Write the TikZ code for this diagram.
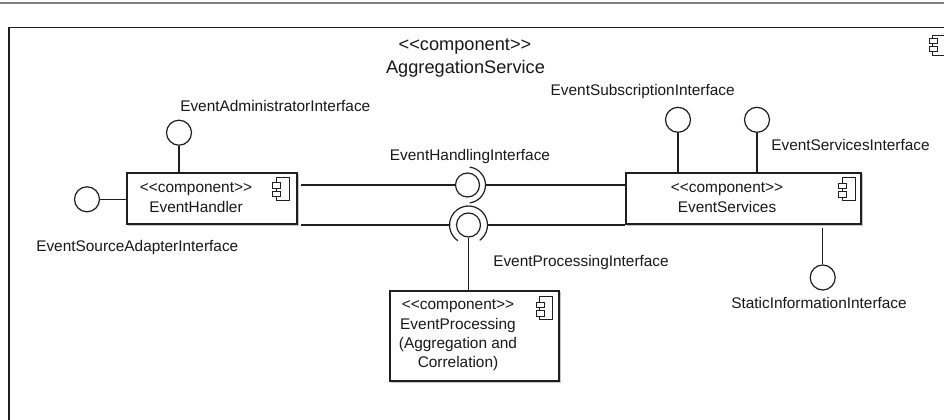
\documentclass[tikz,border=0pt]{standalone}
\usepackage{fontspec}
\setmainfont{Liberation Sans}
\usetikzlibrary{calc}
\newcommand\compstereo{<{}<component>{}>}
\tikzset{
  ln/.style={line width=0.9pt, draw=black!88},
  comp/.style={rectangle, draw=black!88, line width=0.9pt, fill=white, inner sep=0pt},
  ball/.style={circle, draw=black!88, line width=0.9pt, fill=white, inner sep=0pt, minimum size=18.75pt},
  lbl/.style={font=\fontsize{11.55}{14}\selectfont, inner sep=0pt, text=black!90},
  boxtxt/.style={lbl, align=center, font=\fontsize{11.55}{14.6}\selectfont},
  ttl/.style={font=\fontsize{13.65}{16}\selectfont, inner sep=0pt, text=black!90},
  shade/.style={draw=gray!45, line width=0.75pt},
  compicon/.pic={
    \draw[line width=0.7pt, draw=black!88, fill=white] (0,0) rectangle (13,-23);
    \draw[line width=0.7pt, draw=black!88, fill=white] (-3.5,-5.5) rectangle (4.5,-11);
    \draw[line width=0.7pt, draw=black!88, fill=white] (-3.5,-14) rectangle (4.5,-19.5);
  }
}
\begin{document}
\begin{tikzpicture}[x=0.75pt, y=0.75pt]
\useasboundingbox (0,0) rectangle (944,-420);
\fill[white] (0,0) rectangle (944,-420);
\clip (0,0) rectangle (944,-420);

% top gray rule
\draw[line width=1.5pt, draw=gray] (0,-3) -- (944,-3);

% outer component frame (cropped at right and bottom)
\draw[ln] (9,-440) -- (9,-27.5) -- (960,-27.5);
\draw[line width=0.7pt, draw=black!88, fill=white] (932.5,-35) rectangle (952,-55);
\draw[line width=0.7pt, draw=black!88, fill=white] (929,-38) rectangle (937,-43.5);
\draw[line width=0.7pt, draw=black!88, fill=white] (929,-46) rectangle (937,-51.5);
\node[ttl] (t1) at (465,-46.7) {\compstereo};
\node[ttl] (t2) at (465.5,-68.3) {AggregationService};

% component boxes
\node[comp, minimum width=127.5pt, minimum height=38.25pt] (eh) at (212,-198.5) {};
\node[comp, minimum width=176.25pt, minimum height=38.25pt] (es) at (743.5,-198.5) {};
\node[comp, minimum width=126.75pt, minimum height=67.5pt] (ep) at (474.5,-336) {};
\foreach \b in {eh,es,ep}{
  \draw[shade] ($(\b.south west)+(1.5,-1.3)$) -- ($(\b.south east)+(1.3,-1.3)$) -- ($(\b.north east)+(1.3,-1.5)$);
}
\pic at (276,-177.3) {compicon};
\pic at (842,-177.5) {compicon};
\pic at (539.5,-296.5) {compicon};

\node[boxtxt] (eht) at (196,-197.8) {\compstereo\\EventHandler};
\node[boxtxt] (est) at (727,-197.8) {\compstereo\\EventServices};
\node[boxtxt] (ept) at (458,-335.4) {\compstereo\\EventProcessing\\(Aggregation and\\Correlation)};

% lollipop interfaces
\node[ball] (eai) at (179,-132.7) {};
\node[ball] (esi) at (87,-199.3) {};
\node[ball] (esub) at (678,-119.8) {};
\node[ball] (esvi) at (757,-119.8) {};
\node[ball] (sii) at (822.7,-277.5) {};
\node[ball, minimum size=18pt] (ehi) at (467.5,-185) {};
\node[ball, minimum size=18pt] (epi) at (468.5,-225) {};

\draw[ln] (eai.south) -- (eai.south |- eh.north);
\draw[ln] (esi.east) -- (esi.east -| eh.west);
\draw[ln] (esub.south) -- (esub.south |- es.north);
\draw[ln] (esvi.south) -- (esvi.south |- es.north);
\draw[ln] (sii.north) -- ($(sii.north |- es.south)+(0,-3)$);

% EventHandlingInterface (ball and socket)
\draw[ln] ($(eh.east |- ehi)+(3.5,0)$) -- (ehi.west);
\draw[ln] ($(ehi.center)+(18,0)$) -- (ehi -| es.west);
\draw[ln] ($(ehi.center)+(83:18)$) arc[start angle=83, end angle=-83, radius=18];

% EventProcessingInterface (ball and socket)
\draw[ln] ($(eh.east |- epi)+(3.5,0)$) -- ($(epi.center)+(-19,0)$);
\draw[ln] ($(epi.center)+(19,0)$) -- (epi -| es.west);
\draw[ln] ($(epi.center)+(-54:19)$) arc[start angle=-54, end angle=236, radius=19];
\draw[ln] (epi.south) -- (epi.south |- ep.north);

% labels
\node[lbl, anchor=west] (l1) at (180,-106) {EventAdministratorInterface};
\node[lbl, anchor=west] (l2) at (36,-248) {EventSourceAdapterInterface};
\node[lbl] (l3) at (470,-156.7) {EventHandlingInterface};
\node[lbl, anchor=west] (l4) at (493,-263) {EventProcessingInterface};
\node[lbl, anchor=east] (l5) at (735,-92) {EventSubscriptionInterface};
\node[lbl, anchor=west] (l6) at (771,-144.5) {EventServicesInterface};
\node[lbl, anchor=west] (l7) at (731,-302.7) {StaticInformationInterface};
\end{tikzpicture}
\end{document}
